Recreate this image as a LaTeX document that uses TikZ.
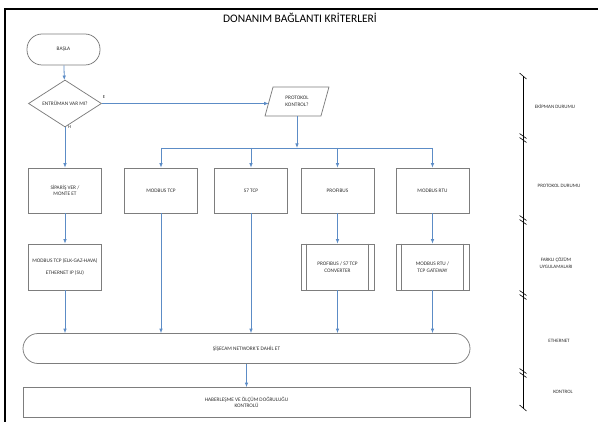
\documentclass[tikz,border=0pt]{standalone}
\usepackage{fontspec}
\setmainfont{Carlito}
\usetikzlibrary{arrows.meta,shapes.geometric,calc}

\definecolor{flowblue}{RGB}{92,140,198}
\definecolor{edgegray}{RGB}{125,125,125}
\definecolor{txtgray}{RGB}{45,45,45}

\tikzset{
  lbl/.style={font=\fontsize{5.3}{6.6}\selectfont, text=txtgray, align=center},
  box/.style={lbl, draw=edgegray, line width=0.75pt, minimum width=73pt,
              minimum height=45pt, inner sep=0pt},
  procbox/.style={box, minimum height=46pt},
  terminal/.style={box, minimum height=31pt, rounded corners=15pt},
  decision/.style={lbl, diamond, aspect=1.6, draw=edgegray, line width=0.75pt,
                   minimum width=73pt, minimum height=47pt, inner sep=0pt},
  iobox/.style={lbl, trapezium, trapezium left angle=69, trapezium right angle=111,
                trapezium stretches=true, draw=edgegray, line width=0.75pt,
                minimum width=64pt, minimum height=29pt, inner sep=0pt},
  flow/.style={draw=flowblue, line width=0.8pt, -{Latex[length=4.5pt,width=3.6pt]}},
  flowline/.style={draw=flowblue, line width=0.8pt},
  sidelbl/.style={font=\fontsize{5}{6.2}\selectfont, text=txtgray, align=center},
  tag/.style={font=\fontsize{4.6}{5}\selectfont, text=txtgray, inner sep=0pt}
}

\begin{document}
\begin{tikzpicture}[x=1pt, y=-1pt]
  \useasboundingbox (0,0) rectangle (598,422);

  % frame and title
  \draw[line width=1.3pt] (598,9) -- (5,9) -- (5,422);
  \node[font=\fontsize{11.5}{13}\selectfont] (title) at (300,17.5) {DONANIM BAĞLANTI KRİTERLERİ};

  % start and decision
  \node[terminal] (start) at (63.5,49.5) {BAŞLA};
  \node[decision] (ask) at (65,103.5) {ENTRÜMAN VAR MI?};
  \node[iobox] (prot) at (297,101.5) {PROTOKOL\\KONTROL?};
  \node[tag] (yes) at (104,97.5) {E};
  \node[tag] (no) at (69.5,127.5) {H};

  % protocol row
  \node[box] (order) at (65,190.5) {SİPARİŞ VER /\\MONTE ET};
  \node[box] (mtcp)  at (161,190.5) {MODBUS TCP};
  \node[box] (s7)    at (251,190.5) {S7 TCP};
  \node[box] (pbus)  at (337.5,190.5) {PROFIBUS};
  \node[box] (mrtu)  at (432.5,190.5) {MODBUS RTU};

  % solution row
  \node[procbox] (eth)  at (65,267) {MODBUS TCP (ELK-GAZ-HAVA)\\[5pt]ETHERNET IP (SU)};
  \node[procbox] (conv) at (337.5,267) {PROFIBUS / S7 TCP\\CONVERTER};
  \node[procbox] (gate) at (432.5,267) {MODBUS RTU /\\TCP GATEWAY};
  \foreach \n in {conv,gate} {
    \draw[edgegray, line width=0.75pt] ($(\n.north west)+(6,0)$) -- ($(\n.south west)+(6,0)$);
    \draw[edgegray, line width=0.75pt] ($(\n.north east)+(-6,0)$) -- ($(\n.south east)+(-6,0)$);
  }

  % network and check
  \node[box, minimum width=447pt, minimum height=30pt, rounded corners=15pt] (net) at (246.5,348.5)
       {ŞİŞECAM NETWORK'E DAHİL ET};
  \node[box, minimum width=447pt, minimum height=30pt] (check) at (246.5,402.5)
       {HABERLEŞME VE ÖLÇÜM DOĞRULUĞU\\KONTROLÜ};

  % connectors
  \draw[flow] (start) -- (ask);
  \draw[flow] (ask.east) -- (prot.west |- ask.east);
  \draw[flow] (ask.south) -- (order.north);
  \draw[flow] (order) -- (eth);
  \draw[flow] (eth.south) -- (eth.south |- net.north);

  \coordinate (busL) at (161,148);
  \coordinate (busR) at (432.5,148);
  \draw[flow] (prot.south) -- (prot.south |- busL);
  \draw[flowline] (busL) -- (busR);
  \foreach \n in {mtcp,s7,pbus,mrtu}
    \draw[flow] (\n.north |- busL) -- (\n.north);

  \draw[flow] (mtcp.south) -- (mtcp.south |- net.north);
  \draw[flow] (s7.south) -- (s7.south |- net.north);
  \draw[flow] (pbus) -- (conv);
  \draw[flow] (mrtu) -- (gate);
  \draw[flow] (conv.south) -- (conv.south |- net.north);
  \draw[flow] (gate.south) -- (gate.south |- net.north);
  \draw[flow] (net) -- (check);

  % stage scale on the right
  \coordinate (scaleTop) at (523,76);
  \coordinate (scaleBot) at (523,408);
  \draw[line width=0.7pt] (scaleTop) -- (scaleBot);
  \foreach \y in {76,408}
    \draw[line width=0.6pt] (519.5,\y-3) -- (526.5,\y+3);
  \foreach \y in {138,220,295,373} {
    \draw[line width=0.6pt] (519.5,\y-4.5) -- (526.5,\y+0.5);
    \draw[line width=0.6pt] (519.5,\y-0.5) -- (526.5,\y+4.5);
  }
  \node[sidelbl] (st1) at (555,106) {EKİPMAN DURUMU};
  \node[sidelbl] (st2) at (559,186) {PROTOKOL DURUMU};
  \node[sidelbl] (st3) at (556,263) {FARKLI ÇÖZÜM\\UYGULAMALARI};
  \node[sidelbl] (st4) at (559,341) {ETHERNET};
  \node[sidelbl] (st5) at (563,391.5) {KONTROL};
\end{tikzpicture}
\end{document}
